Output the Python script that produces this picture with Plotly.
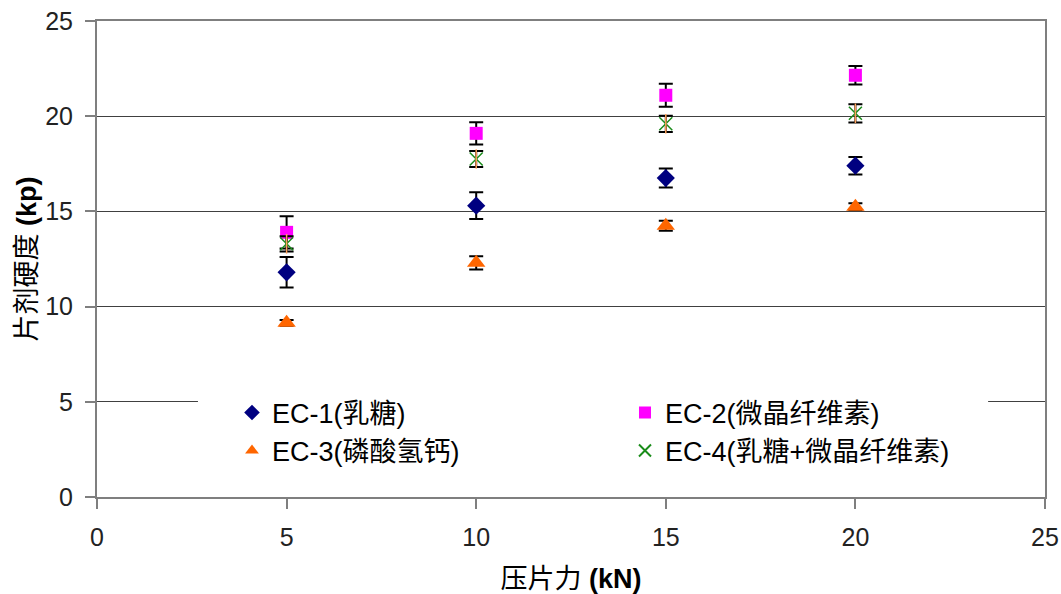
import plotly.graph_objects as go

# Compression force (kN)
force = [5, 10, 15, 20]

# Tablet hardness (kp), mean and error for each formulation
ec1 = [11.8, 15.3, 16.75, 17.4]
ec1_err = [0.8, 0.7, 0.5, 0.46]
ec2 = [13.9, 19.1, 21.1, 22.15]
ec2_err = [0.85, 0.58, 0.6, 0.48]
ec3 = [9.15, 12.3, 14.25, 15.25]
ec3_err = [0.15, 0.35, 0.26, 0.18]
ec4 = [13.3, 17.75, 19.6, 20.15]
ec4_err = [0.4, 0.42, 0.43, 0.48]

names = ["EC-1(乳糖)", "EC-2(微晶纤维素)", "EC-3(磷酸氢钙)", "EC-4(乳糖+微晶纤维素)"]

FONT = "Liberation Sans, Arial, Noto Sans CJK SC, sans-serif"


def err(vals):
    return dict(type="data", array=vals, visible=True, color="black",
                thickness=2, width=7)


fig = go.Figure()

fig.add_trace(go.Scatter(
    x=force, y=ec1, mode="markers", name=names[0], legend="legend",
    error_y=err(ec1_err),
    marker=dict(symbol="diamond", size=14, color="#000080"),
))
fig.add_trace(go.Scatter(
    x=force, y=ec2, mode="markers", name=names[1], legend="legend",
    error_y=err(ec2_err),
    marker=dict(symbol="square", size=13, color="#ff00ff"),
))
fig.add_trace(go.Scatter(
    x=force, y=ec3, mode="markers", name=names[2], legend="legend2",
    error_y=err(ec3_err),
    marker=dict(symbol="triangle-up", size=16, color="#ff6600"),
))
fig.add_trace(go.Scatter(
    x=force, y=ec4, mode="markers", name=names[3], legend="legend2",
    error_y=err(ec4_err),
    marker=dict(symbol="x-thin-open", size=13, color="#1a8c1a",
                line=dict(width=1.5, color="#1a8c1a")),
))
# vertical stroke completing the star marker
fig.add_trace(go.Scatter(
    x=force, y=ec4, mode="markers", showlegend=False, hoverinfo="skip",
    marker=dict(symbol="line-ns-open", size=14,
                line=dict(width=1.5, color="#1a8c1a")),
))

axis_common = dict(
    range=[0, 25], dtick=5, tick0=0, automargin=False,
    showline=True, linecolor="#7f7f7f", linewidth=2, mirror=True,
    ticks="outside", ticklen=10, tickcolor="#7f7f7f", tickwidth=1.5,
    tickfont=dict(family=FONT, size=25, color="#222222"),
    zeroline=False,
)

legend_common = dict(
    orientation="h", bgcolor="rgba(0,0,0,0)", borderwidth=0,
    font=dict(family=FONT, size=27, color="black"),
    entrywidth=348, entrywidthmode="pixels",
    xanchor="left", yanchor="middle", itemsizing="constant",
)

fig.update_layout(
    width=1061, height=594,
    margin=dict(l=97, r=16, t=21, b=97),
    paper_bgcolor="white", plot_bgcolor="white",
    showlegend=True,
    xaxis=dict(**axis_common, showgrid=False, ticklabelstandoff=7,
               title=dict(text="压片力 <b>(kN)</b>", standoff=24,
                          font=dict(family=FONT, size=27, color="black"))),
    yaxis=dict(**axis_common, showgrid=True, gridcolor="#404040", gridwidth=1,
               ticklabelstandoff=7,
               title=dict(text="片剂硬度 <b>(kp)</b>", standoff=1,
                          font=dict(family=FONT, size=27, color="black"))),
    legend=dict(**legend_common, x=0.1424, y=0.1765),
    legend2=dict(**legend_common, x=0.1424, y=0.0966),
    # white backdrop behind the legend block, hiding the gridline there
    shapes=[dict(type="rect", xref="paper", yref="paper",
                 x0=0.1065, x1=0.94, y0=0.19, y1=0.21,
                 fillcolor="white", line=dict(width=0), layer="above")],
)

fig.write_html("out.html")
